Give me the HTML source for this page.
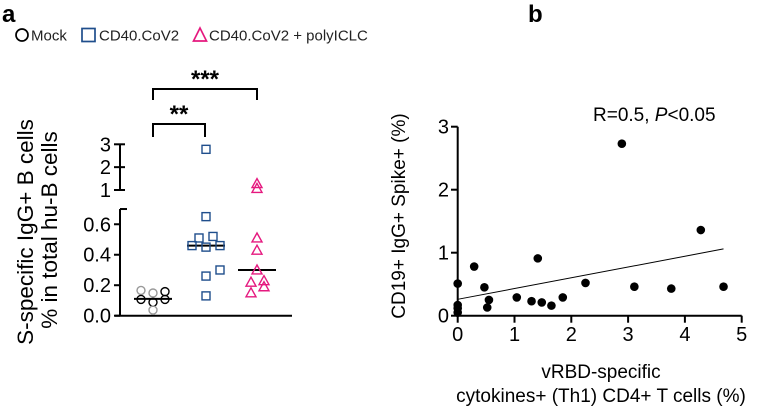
<!DOCTYPE html>
<html><head><meta charset="utf-8"><style>
body{margin:0;background:#fff;width:762px;height:408px;overflow:hidden}
svg{font-family:"Liberation Sans",Arial,sans-serif}
</style></head><body>
<svg width="762" height="408" id="chart">
<g id="pa"></g>
<g id="pb"></g>
</svg>
<script>
// Panel a data
const groups = ["Mock","CD40.CoV2","CD40.CoV2 + polyICLC"];
const mockVals = [0.166,0.149,0.158,0.107,0.088,0.107,0.037];
const mockDx = [-12,0,12,-12,0,12,0];
const cd40Vals = [2.78,0.65,0.51,0.52,0.46,0.45,0.46,0.30,0.26,0.13];
const cd40Dx = [0,0,-7,7,-14,0,14,14,0,0];
const polyVals = [1.28,1.07,0.51,0.43,0.30,0.22,0.23,0.15,0.19];
const polyDx = [0,0,0,0,0,-6,7,-6,7];
const medians = [0.11,0.46,0.30];
const lowTicks = ["0.0","0.2","0.4","0.6"];
const highTicks = ["1","2","3"];
// Panel b data
const bx = [0,0,0,0,0.29,0.47,0.55,0.52,1.04,1.30,1.41,1.48,1.65,1.85,2.25,2.89,3.11,3.76,4.28,4.68];
const by = [0.51,0.17,0.12,0.05,0.78,0.45,0.25,0.13,0.29,0.23,0.91,0.21,0.16,0.29,0.52,2.73,0.46,0.43,1.36,0.46];
const fitLine = [[0,0.26],[4.68,1.06]];
const bxTicks = [0,1,2,3,4,5];
const byTicks = [0,1,2,3];

const NS="http://www.w3.org/2000/svg";
function mk(parent,tag,attrs,text){const e=document.createElementNS(NS,tag);for(const k in attrs)e.setAttribute(k,attrs[k]);if(text!==undefined)e.textContent=text;parent.appendChild(e);return e;}
const pa=document.getElementById('pa'), pb=document.getElementById('pb');

// ---- Panel A ----
function yA(v){ return v<=0.8 ? 315.7 - v*152.4 : 190 - (v-1)*22.85; }
const gx=[153,206,257];
let t;
t=mk(pa,'text',{x:2,y:22,'font-size':24,'font-weight':'bold'},'a');

const leg=mk(pa,'g',{});
mk(leg,'circle',{cx:22,cy:35,r:6,fill:'none',stroke:'#000','stroke-width':1.7});
mk(leg,'text',{x:31,y:40.5,'font-size':15,fill:'#222'},'Mock');
mk(leg,'rect',{x:82,y:28.5,width:13,height:13,fill:'none',stroke:'#1f4e8c','stroke-width':1.7});
mk(leg,'text',{x:99,y:40.5,'font-size':15,fill:'#222'},'CD40.CoV2');
mk(leg,'polygon',{points:'200,28 193.5,41 206.5,41',fill:'none',stroke:'#e5197f','stroke-width':1.7});
mk(leg,'text',{x:209,y:40.5,'font-size':15,fill:'#222'},'CD40.CoV2 + polyICLC');
const ax=mk(pa,'g',{stroke:'#000','stroke-width':2,fill:'none'});
mk(ax,'line',{x1:120,y1:yA(0),x2:120,y2:yA(0.7)});
mk(ax,'line',{x1:120,y1:yA(1),x2:120,y2:yA(3)});
mk(ax,'line',{x1:120,y1:yA(0.7),x2:127,y2:yA(0.7)});
const xa=mk(pa,'line',{x1:115,y1:315.7,x2:292,y2:315.7,stroke:'#000','stroke-width':2});

lowTicks.forEach(s=>{const v=parseFloat(s);mk(pa,'line',{x1:114,y1:yA(v),x2:120,y2:yA(v),stroke:'#000','stroke-width':2});
 const e=mk(pa,'text',{x:111,y:yA(v)+7,'font-size':20,'text-anchor':'end'},s);});
highTicks.forEach(s=>{const v=parseFloat(s);mk(pa,'line',{x1:114,y1:yA(v),x2:125,y2:yA(v),stroke:'#000','stroke-width':2});
 const e=mk(pa,'text',{x:111,y:yA(v)+7,'font-size':20,'text-anchor':'end'},s);});
t=mk(pa,'text',{transform:'translate(33,232) rotate(-90)','font-size':22.5,'text-anchor':'middle'},'S-specific IgG+ B cells');

t=mk(pa,'text',{transform:'translate(57,230) rotate(-90)','font-size':22.5,'text-anchor':'middle'},'% in total hu-B cells');

medians.forEach((m,i)=>{const e=mk(pa,'line',{x1:gx[i]-19,x2:gx[i]+19,y1:yA(m),y2:yA(m),stroke:'#000','stroke-width':2});
 });
mockVals.forEach((v,i)=>{const gray=(i<2||i==6);const e=mk(pa,'circle',{cx:gx[0]+mockDx[i],cy:yA(v),r:4,fill:'none',stroke:gray?'#999':'#000','stroke-width':1.4});
 });
cd40Vals.forEach((v,i)=>{const x=gx[1]+cd40Dx[i],y=yA(v);const e=mk(pa,'rect',{x:x-4,y:y-4,width:8,height:8,fill:'none',stroke:'#1f4e8c','stroke-width':1.4});
 });
polyVals.forEach((v,i)=>{const x=gx[2]+polyDx[i],y=yA(v);const e=mk(pa,'polygon',{points:`${x},${y-5} ${x-5},${y+4} ${x+5},${y+4}`,fill:'none',stroke:'#e5197f','stroke-width':1.4});
 });
const b1=mk(pa,'path',{d:'M153,100 V89 H257 V100',fill:'none',stroke:'#000','stroke-width':2});
t=mk(pa,'text',{x:205,y:87,'font-size':24,'font-weight':'bold','text-anchor':'middle'},'***');
const b2=mk(pa,'path',{d:'M153,137 V124 H205 V137',fill:'none',stroke:'#000','stroke-width':2});
t=mk(pa,'text',{x:179,y:122,'font-size':24,'font-weight':'bold','text-anchor':'middle'},'**');

// ---- Panel B ----
function xB(v){return 457.7+v*56.8;}
function yB(v){return 315.7-v*63;}
t=mk(pb,'text',{x:528,y:22,'font-size':24,'font-weight':'bold'},'b');
const bya=mk(pb,'line',{x1:457.7,y1:yB(0)+1,x2:457.7,y2:yB(3),stroke:'#000','stroke-width':2});
const bxa=mk(pb,'line',{x1:456.7,y1:yB(0),x2:xB(5),y2:yB(0),stroke:'#000','stroke-width':2});
byTicks.forEach(v=>{mk(pb,'line',{x1:451,x2:457.7,y1:yB(v),y2:yB(v),stroke:'#000','stroke-width':2});
 const e=mk(pb,'text',{x:449,y:yB(v)+7,'font-size':20,'text-anchor':'end'},String(v));});
bxTicks.forEach(v=>{mk(pb,'line',{x1:xB(v),x2:xB(v),y1:yB(0),y2:yB(0)+7,stroke:'#000','stroke-width':2});
 const e=mk(pb,'text',{x:xB(v),y:341,'font-size':20,'text-anchor':'middle'},String(v));});
const fl=mk(pb,'line',{x1:xB(fitLine[0][0]),y1:yB(fitLine[0][1]),x2:xB(fitLine[1][0]),y2:yB(fitLine[1][1]),stroke:'#000','stroke-width':1});

bx.forEach((v,i)=>{const e=mk(pb,'circle',{cx:xB(v),cy:yB(by[i]),r:4.3,fill:'#000'});});
t=mk(pb,'text',{x:593,y:121,'font-size':19});
t.innerHTML='R=0.5, <tspan font-style="italic">P</tspan>&lt;0.05';
t=mk(pb,'text',{transform:'translate(405,216) rotate(-90)','font-size':19,'text-anchor':'middle'},'CD19+ IgG+ Spike+ (%)');
t=mk(pb,'text',{x:601,y:378,'font-size':19,'text-anchor':'middle'},'vRBD-specific');
t=mk(pb,'text',{x:601,y:402,'font-size':19,'text-anchor':'middle'},'cytokines+ (Th1) CD4+ T cells (%)');
</script>
</body></html>
